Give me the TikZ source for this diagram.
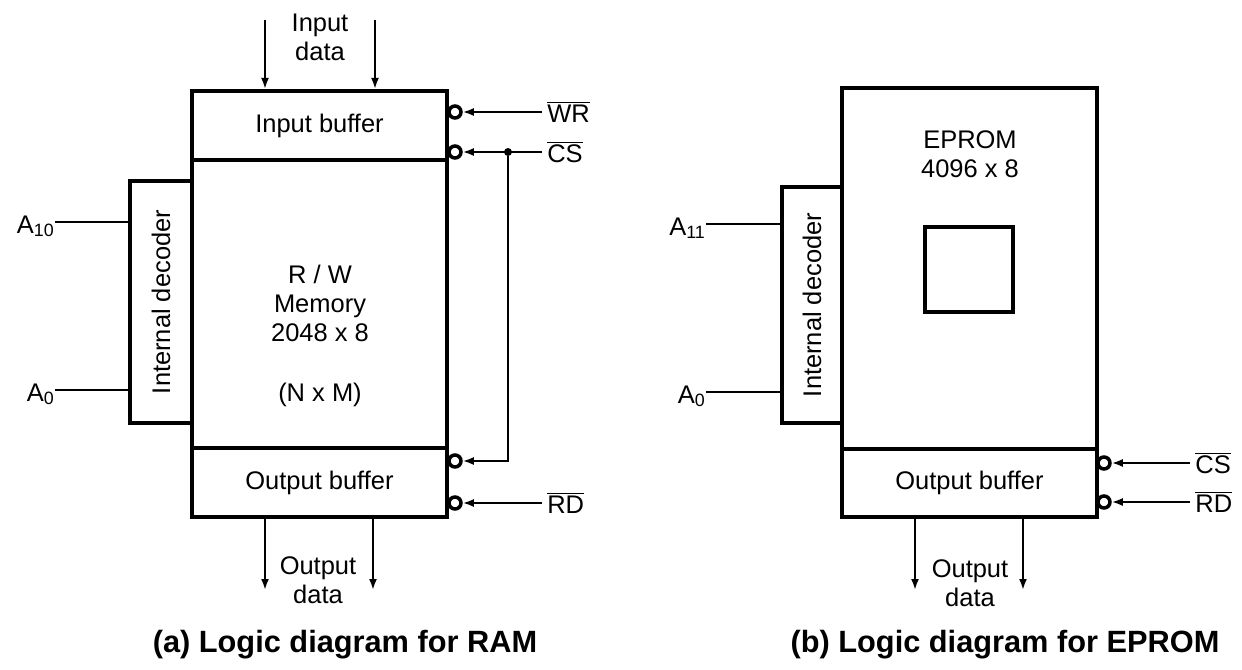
\documentclass[tikz,border=0pt]{standalone}
\usepackage{fontspec}
\setmainfont{Liberation Sans}
\usetikzlibrary{arrows.meta,positioning,calc}

\tikzset{
  blk/.style={draw, line width=2.4pt, inner sep=0pt, font=\fontsize{14.5}{16.5}\selectfont},
  bub/.style={circle, draw, line width=2pt, minimum size=0.24cm, inner sep=0pt},
  sig/.style={line width=1.2pt, -{Latex[length=2.2mm,width=1.6mm]}},
  wire/.style={line width=1.2pt},
  lbl/.style={inner sep=0pt, font=\fontsize{14.5}{16.5}\selectfont},
  sname/.style={inner xsep=0.1cm, inner ysep=0pt, anchor=west, font=\fontsize{14.5}{16.5}\selectfont},
  addr/.style={inner sep=0pt, anchor=base east, font=\fontsize{14.5}{16.5}\selectfont},
  captext/.style={inner sep=0pt, font=\fontsize{17.5}{20}\selectfont\bfseries}
}

\begin{document}
\begin{tikzpicture}[x=0.02cm, y=-0.02cm]
        \useasboundingbox (0,0) rectangle (1242,670);

        % RAM
        \node[blk, minimum width=5.1cm, minimum height=1.38cm] (inbuf) at (319.5,125.5) {Input buffer};
        \node[blk, minimum width=5.1cm, minimum height=5.76cm] (mem) at (319.5,304) {};
        \node[blk, minimum width=5.1cm, minimum height=1.38cm] (outbuf) at (319.5,482.5) {Output buffer};
        \node[blk, minimum width=1.24cm, minimum height=4.84cm] (dec) at (161,302) {};
        \node[lbl, rotate=90] (dectxt) at (dec) {Internal decoder};
        \node[lbl, align=center] (memtxt) at (320,336) {R / W\\Memory\\2048 x 8\\[0.62cm](N x M)};

        \node[lbl, align=center] (indata) at (320,37) {Input\\data};
        \node[lbl, align=center] (outdata) at (318,580) {Output\\data};
        \foreach \x/\n in {265/ia,375/ib} {
          \coordinate (\n) at (\x,20);
          \draw[sig] (\n) -- (\n |- inbuf.north);
        }
        \foreach \x/\n in {265/oa,373/ob} {
          \coordinate (\n) at (\x,590);
          \draw[sig] (\n |- outbuf.south) -- (\n);
        }

        \foreach \y/\n/\t in {222/a10/10,390/a0/0} {
          \coordinate (\n) at (55,\y);
          \node[addr] (\n lab) at ([yshift=-0.22cm]\n) {A\textsubscript{\t}};
          \draw[wire] (\n) -- (\n -| dec.west);
        }

        \node[bub] (wrb) at (455,112) {};
        \node[bub] (csb) at (455,152) {};
        \node[bub] (cs2b) at (455,461) {};
        \node[bub] (rdb) at (455,503) {};
        \node[sname] (wrlab) at (542,112) {$\overline{\mbox{WR}}$};
        \node[sname] (cslab) at (542,152) {$\overline{\mbox{CS}}$};
        \node[sname] (rdlab) at (542,503) {$\overline{\mbox{RD}}$};
        \node[circle, fill, inner sep=0pt, minimum size=0.16cm] (csdot) at (508,152) {};
        \draw[sig] (wrlab.west) -- (wrb);
        \draw[sig] (cslab.west) -- (csb);
        \draw[sig] (csdot) |- (cs2b);
        \draw[sig] (rdlab.west) -- (rdb);

        \node[captext] (capa) at (345,645) {(a) Logic diagram for RAM};

        % EPROM
        \node[blk, minimum width=5.1cm, minimum height=7.22cm] (rom) at (969.5,268.5) {};
        \node[blk, minimum width=5.1cm, minimum height=1.36cm] (rbuf) at (969.5,483) {Output buffer};
        \node[blk, minimum width=1.2cm, minimum height=4.72cm] (rdec) at (812,305) {};
        \node[blk, minimum width=1.76cm, minimum height=1.7cm] (cell) at (969,269.5) {};
        \node[lbl, rotate=90] (rdectxt) at (rdec) {Internal decoder};
        \node[lbl, align=center] (romtxt) at (970,154) {EPROM\\4096 x 8};

        \node[lbl, align=center] (routdata) at (970,583) {Output\\data};
        \foreach \x/\n in {915/ra,1023/rb} {
          \coordinate (\n) at (\x,590);
          \draw[sig] (\n |- rbuf.south) -- (\n);
        }

        \foreach \y/\n/\t in {224/ra11/11,392/ra0/0} {
          \coordinate (\n) at (706,\y);
          \node[addr] (\n lab) at ([yshift=-0.22cm]\n) {A\textsubscript{\t}};
          \draw[wire] (\n) -- (\n -| rdec.west);
        }

        \node[bub] (rcsb) at (1104,463) {};
        \node[bub] (rrdb) at (1104,502) {};
        \node[sname] (rcslab) at (1190,463) {$\overline{\mbox{CS}}$};
        \node[sname] (rrdlab) at (1190,502) {$\overline{\mbox{RD}}$};
        \draw[sig] (rcslab.west) -- (rcsb);
        \draw[sig] (rrdlab.west) -- (rrdb);

        \node[captext] (capb) at (1005,645) {(b) Logic diagram for EPROM};
      \end{tikzpicture}
\end{document}
